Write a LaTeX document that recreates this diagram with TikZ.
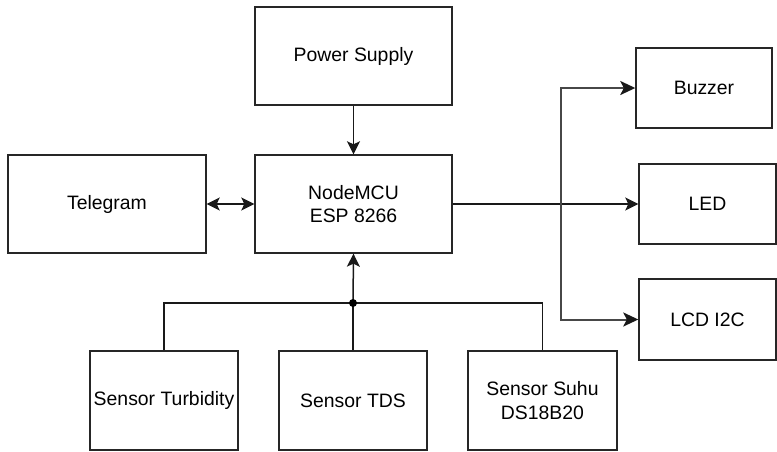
\documentclass[tikz,border=0pt]{standalone}
\usepackage{fontspec}
\setmainfont{Liberation Sans}
\usetikzlibrary{arrows.meta}
\begin{document}
\begin{tikzpicture}[x=1pt,y=-1pt,
  box/.style={draw=black!85, line width=1.4pt, rectangle, inner sep=0pt, align=center,
    font=\fontsize{19.4}{23.5}\selectfont},
  conn/.style={line width=1.5pt, draw=black!90},
  arr/.style={conn, -{Stealth[length=13pt,width=13pt,inset=3pt]}},
  grayarr/.style={line width=2pt, draw=black!72, -{Stealth[length=15pt,width=14pt,inset=3.5pt,color=black!90]}},
  biarr/.style={conn, {Stealth[length=13pt,width=13pt,inset=3pt]}-{Stealth[length=13pt,width=13pt,inset=3pt]}}]
\useasboundingbox (0,0) rectangle (777,451);
\node[box, minimum width=197pt, minimum height=98pt] (ps) at (353.5,56) {Power Supply};
\node[box, minimum width=197pt, minimum height=98pt] (mcu) at (353.5,204) {NodeMCU\\ESP 8266};
\node[box, minimum width=198pt, minimum height=98pt] (tg) at (107,204) {Telegram};
\node[box, minimum width=136pt, minimum height=80pt] (buzz) at (704,88) {Buzzer};
\node[box, minimum width=137pt, minimum height=80pt] (led) at (707.5,204) {LED};
\node[box, minimum width=137pt, minimum height=81pt] (lcd) at (707.5,319.5) {LCD I2C};
\node[box, minimum width=148pt, minimum height=99pt] (turb) at (164,400.5) {Sensor Turbidity};
\node[box, minimum width=148pt, minimum height=99pt] (tds) at (353,400.5) {Sensor TDS};
\node[box, minimum width=149pt, minimum height=99pt] (suhu) at (542.5,400.5) {Sensor Suhu\\DS18B20};
\draw[arr] (ps) -- (mcu);
\draw[biarr] (tg) -- (mcu);
\draw[arr] (mcu.east) -- (led.west);
\coordinate (bj) at (561,204);
\draw[grayarr] (bj) |- (buzz.west);
\draw[grayarr] (bj) |- (lcd.west);
\coordinate (jn) at (353,303);
\draw[arr] (jn) -- (mcu.south);
\draw[conn] (turb.north) |- (jn) -| (suhu.north);
\draw[conn] (tds.north) -- (jn);
\fill (jn) circle (4pt);
\end{tikzpicture}
\end{document}
